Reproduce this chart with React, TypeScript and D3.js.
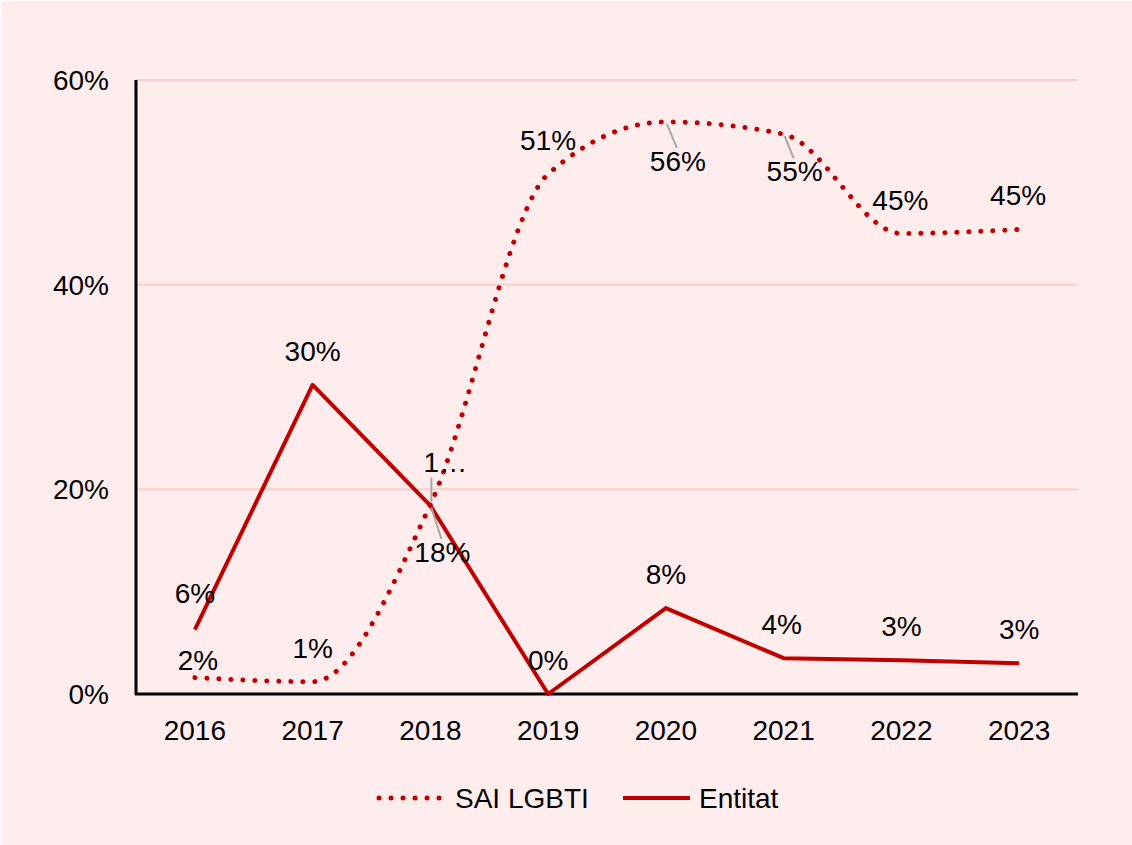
import { useEffect, useRef } from "react"
import * as d3 from "d3"

const years = ["2016", "2017", "2018", "2019", "2020", "2021", "2022", "2023"]
const saiValues = [0.016, 0.012, 0.185, 0.508, 0.559, 0.547, 0.45, 0.454]
const saiLabels = ["2%", "1%", "1…", "51%", "56%", "55%", "45%", "45%"]
const entitatValues = [0.063, 0.302, 0.184, 0.0, 0.084, 0.035, 0.033, 0.03]
const entitatLabels = ["6%", "30%", "18%", "0%", "8%", "4%", "3%", "3%"]
const yTicks = [0, 0.2, 0.4, 0.6]
const seriesNames = ["SAI LGBTI", "Entitat"]

// label offsets from the point (dx, dy) and whether a leader line is drawn
const saiLabelPos: [number, number, boolean][] = [
  [3, -18, false], [0, -34, false], [15, -43, true], [0, -34, false],
  [12, 39, true], [11, 37, true], [-1, -34, false], [-1, -34, false],
]
const entitatLabelPos: [number, number, boolean][] = [
  [0, -37, false], [0, -34, false], [12, 46, true], [0, -34, false],
  [0, -34, false], [-2, -34, false], [0, -34, false], [0, -34, false],
]

const W = 1132
const H = 845
const RED = "#C00000"
const FONT = "'Liberation Sans', Arial, sans-serif"

export default function App() {
  const svgRef = useRef<SVGSVGElement>(null)

  useEffect(() => {
    document.body.style.margin = "0"
    if (!svgRef.current) return
    const svg = d3.select(svgRef.current)
    svg.selectAll("*").remove()

    const margin = { top: 80, right: 54, bottom: 151, left: 136 }

    svg.append("rect")
      .attr("x", 1).attr("y", 1)
      .attr("width", W - 1).attr("height", H - 1)
      .style("fill", "#FFEDED")

    const x = d3.scaleBand().domain(years).range([margin.left, W - margin.right])
    const y = d3.scaleLinear().domain([0, 0.6]).range([H - margin.bottom, margin.top])
    const cx = (d: string) => (x(d) as number) + x.bandwidth() / 2

    // Líneas de cuadrícula
    svg.append("g")
      .selectAll("line")
      .data(yTicks.filter((t) => t > 0))
      .enter()
      .append("line")
      .attr("x1", margin.left)
      .attr("x2", W - margin.right)
      .attr("y1", (d) => y(d))
      .attr("y2", (d) => y(d))
      .style("stroke", "#FFCCCC")
      .style("stroke-width", "2px")

    // Ejes
    svg.append("line")
      .attr("x1", margin.left).attr("x2", margin.left)
      .attr("y1", y(0.6)).attr("y2", y(0) + 1)
      .style("stroke", "#000").style("stroke-width", "3px")
    svg.append("line")
      .attr("x1", margin.left - 1).attr("x2", W - margin.right)
      .attr("y1", y(0)).attr("y2", y(0))
      .style("stroke", "#000").style("stroke-width", "3px")

    svg.append("g")
      .selectAll("text")
      .data(yTicks)
      .enter()
      .append("text")
      .text((d) => `${Math.round(d * 100)}%`)
      .attr("x", 109)
      .attr("y", (d) => y(d))
      .attr("dy", "0.36em")
      .attr("text-anchor", "end")
      .style("font-family", FONT)
      .style("font-size", "28px")
      .style("fill", "#000")

    svg.append("g")
      .selectAll("text")
      .data(years)
      .enter()
      .append("text")
      .text((d) => d)
      .attr("x", (d) => cx(d))
      .attr("y", 740)
      .attr("text-anchor", "middle")
      .style("font-family", FONT)
      .style("font-size", "28px")
      .style("fill", "#000")

    // Series
    const saiLine = d3.line<number>()
      .x((_, i) => cx(years[i]))
      .y((d) => y(d))
      .curve(d3.curveMonotoneX)
    const entLine = d3.line<number>()
      .x((_, i) => cx(years[i]))
      .y((d) => y(d))

    svg.append("path")
      .datum(entitatValues)
      .attr("d", entLine)
      .style("fill", "none")
      .style("stroke", RED)
      .style("stroke-width", "4px")
      .style("stroke-linejoin", "round")

    svg.append("path")
      .datum(saiValues)
      .attr("d", saiLine)
      .style("fill", "none")
      .style("stroke", RED)
      .style("stroke-width", "5px")
      .style("stroke-linecap", "round")
      .style("stroke-dasharray", "0.1 11.9")

    // Etiquetas de datos
    const drawLabels = (vals: number[], labels: string[], pos: [number, number, boolean][]) => {
      vals.forEach((v, i) => {
        const px = cx(years[i])
        const py = y(v)
        const [dx, dy, leader] = pos[i]
        if (leader) {
          const lx = px + dx
          const ly = py + dy
          const ex = dy > 0 ? ly - 13 : ly + 12
          svg.append("line")
            .attr("x1", px + (dx > 0 ? 1 : 0))
            .attr("y1", py + (dy > 0 ? 2 : -3))
            .attr("x2", dy > 0 ? lx - 1 : px + 1)
            .attr("y2", dy > 0 ? ex : ex + 4)
            .style("stroke", "#A6A6A6")
            .style("stroke-width", "2px")
        }
        svg.append("text")
          .text(labels[i])
          .attr("x", px + dx)
          .attr("y", py + dy)
          .attr("dy", "0.36em")
          .attr("text-anchor", "middle")
          .style("font-family", FONT)
          .style("font-size", "28px")
          .style("fill", "#000")
      })
    }
    drawLabels(saiValues, saiLabels, saiLabelPos)
    drawLabels(entitatValues, entitatLabels, entitatLabelPos)

    // Leyenda
    const lg = svg.append("g")
    lg.append("line")
      .attr("x1", 379).attr("x2", 441)
      .attr("y1", 798).attr("y2", 798)
      .style("stroke", RED)
      .style("stroke-width", "5px")
      .style("stroke-linecap", "round")
      .style("stroke-dasharray", "0.1 11.9")
    lg.append("text")
      .text(seriesNames[0])
      .attr("x", 455).attr("y", 798).attr("dy", "0.36em")
      .style("font-family", FONT).style("font-size", "28px").style("fill", "#000")
    lg.append("line")
      .attr("x1", 623).attr("x2", 690)
      .attr("y1", 798).attr("y2", 798)
      .style("stroke", RED)
      .style("stroke-width", "4px")
    lg.append("text")
      .text(seriesNames[1])
      .attr("x", 699).attr("y", 798).attr("dy", "0.36em")
      .style("font-family", FONT).style("font-size", "28px").style("fill", "#000")
  }, [])

  return (
    <div style={{ position: "absolute", left: 0, top: 0, background: "#fff" }}>
      <svg ref={svgRef} width={W} height={H} style={{ display: "block" }} />
    </div>
  )
}
